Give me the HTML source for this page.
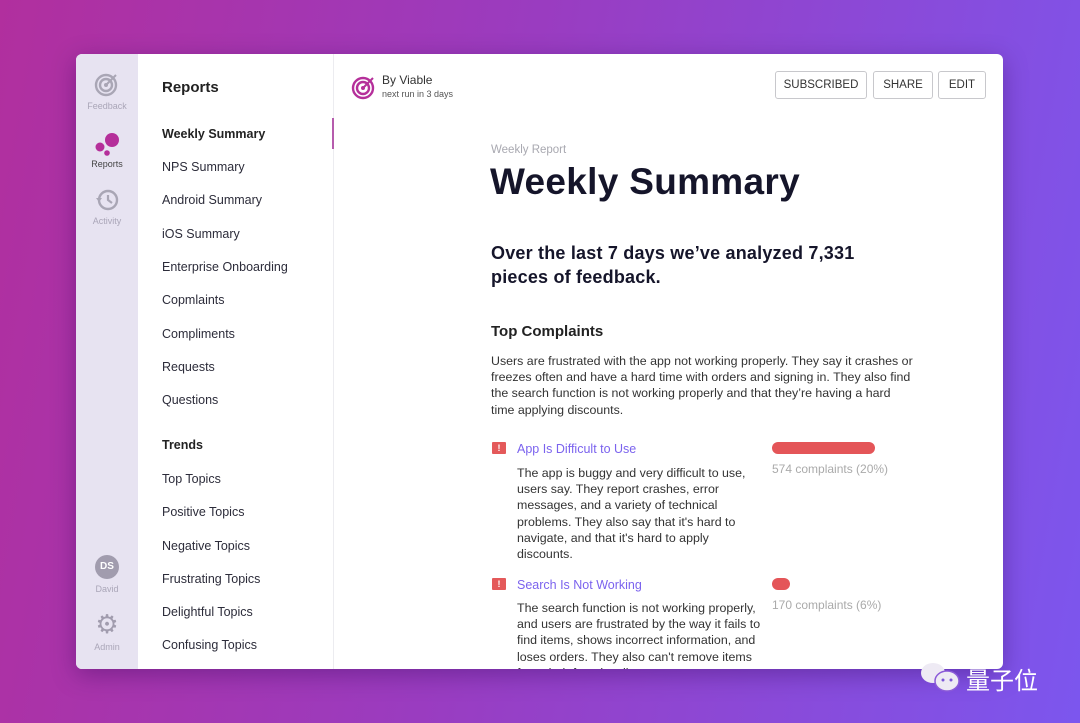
<!DOCTYPE html>
<html><head><meta charset="utf-8"><style>
*{margin:0;padding:0;box-sizing:border-box}
body{width:1080px;height:723px;overflow:hidden;position:relative;font-family:"Liberation Sans",sans-serif;background:linear-gradient(100deg,#b12f9e 0%,#9a3cc0 45%,#7c56ee 100%);}
.win{position:absolute;left:76px;top:54px;width:927px;height:615px;background:#fff;border-radius:6px;overflow:hidden;box-shadow:0 6px 24px rgba(40,0,80,.35)}
.rail{position:absolute;left:0;top:0;width:62px;height:100%;background:#e7e3f1}
.nav{position:absolute;left:62px;top:0;width:196px;height:100%;background:#fff;border-right:1px solid #ececf0}
.a{position:absolute;white-space:nowrap}
.ni{position:absolute;left:24px;font-size:12.5px;color:#2c2c3a}
.rl{position:absolute;width:62px;text-align:center;font-size:9px;color:#aaa6b8}
.btn{position:absolute;top:17px;height:28px;border:1px solid #c8c8cc;border-radius:3px;font-size:11.5px;color:#333;text-align:center;line-height:26px}
.p{font-size:12.4px;color:#333;line-height:16.2px}
</style></head><body>
<div class="win">
 <div class="rail">
  <svg class="a" style="left:18px;top:17px" width="26" height="26" viewBox="0 0 26 26"><circle cx="12" cy="14" r="10" fill="none" stroke="#a9a6b5" stroke-width="2.4"/><circle cx="12" cy="14" r="6" fill="none" stroke="#a9a6b5" stroke-width="2.4"/><circle cx="12" cy="14" r="2" fill="#a9a6b5"/><path d="M12 14 L22 4" stroke="#a9a6b5" stroke-width="2"/></svg>
  <div class="rl" style="top:47px">Feedback</div>
  <svg class="a" style="left:18px;top:78px" width="28" height="26"><circle cx="18" cy="8" r="7" fill="#b52f9a"/><circle cx="6" cy="15" r="4.5" fill="#b52f9a"/><circle cx="13" cy="21" r="2.8" fill="#b52f9a"/></svg>
  <div class="rl" style="top:105px;color:#444">Reports</div>
  <svg class="a" style="left:19px;top:134px" width="26" height="24"><circle cx="13" cy="12" r="9" fill="none" stroke="#a9a6b5" stroke-width="2.4"/><path d="M13 7v5l4 3" stroke="#a9a6b5" stroke-width="2.2" fill="none"/><path d="M1 10l3 4 3-4z" fill="#a9a6b5"/></svg>
  <div class="rl" style="top:162px">Activity</div>
  <div class="a" style="left:19px;top:501px;width:24px;height:24px;border-radius:50%;background:#a19cae;color:#fff;font-size:10px;font-weight:bold;text-align:center;line-height:24px">DS</div>
  <div class="rl" style="top:530px">David</div>
  <div class="a" style="left:19px;top:558px;width:24px;height:24px;font-size:26px;line-height:24px;color:#a19cae;text-align:center">⚙</div>
  <div class="rl" style="top:588px">Admin</div>
 </div>
 <div class="nav">
  <div class="a" style="left:24px;top:25px;font-size:15px;font-weight:bold;color:#222">Reports</div>
  <div class="ni" style="top:73px;font-weight:bold;color:#222">Weekly Summary</div>
  <div class="ni" style="top:106px">NPS Summary</div>
  <div class="ni" style="top:139px">Android Summary</div>
  <div class="ni" style="top:173px">iOS Summary</div>
  <div class="ni" style="top:206px">Enterprise Onboarding</div>
  <div class="ni" style="top:239px">Copmlaints</div>
  <div class="ni" style="top:273px">Compliments</div>
  <div class="ni" style="top:306px">Requests</div>
  <div class="ni" style="top:339px">Questions</div>
  <div class="ni" style="top:384px;font-weight:bold;color:#222">Trends</div>
  <div class="ni" style="top:418px">Top Topics</div>
  <div class="ni" style="top:451px">Positive Topics</div>
  <div class="ni" style="top:485px">Negative Topics</div>
  <div class="ni" style="top:518px">Frustrating Topics</div>
  <div class="ni" style="top:551px">Delightful Topics</div>
  <div class="ni" style="top:584px">Confusing Topics</div>
  <div class="a" style="left:194px;top:64px;width:2px;height:31px;background:#b65cad"></div>
 </div>
 <svg class="a" style="left:275px;top:20px" width="26" height="26"><circle cx="12" cy="14" r="10" fill="none" stroke="#b52f9a" stroke-width="2.4"/><circle cx="12" cy="14" r="6" fill="none" stroke="#b52f9a" stroke-width="2.4"/><circle cx="12" cy="14" r="2" fill="#b52f9a"/><path d="M12 14 L22 4" stroke="#b52f9a" stroke-width="2"/></svg>
 <div class="a" style="left:306px;top:19px;font-size:12px;color:#333">By Viable</div>
 <div class="a" style="left:306px;top:35px;font-size:9px;color:#555">next run in 3 days</div>
 <div class="btn" style="left:699px;width:92px">SUBSCRIBED</div>
 <div class="btn" style="left:797px;width:60px">SHARE</div>
 <div class="btn" style="left:862px;width:48px">EDIT</div>
 <div class="a" style="left:415px;top:90px;font-size:11.5px;color:#a8a8b0">Weekly Report</div>
 <div class="a" style="left:414px;top:107px;font-size:37px;font-weight:bold;color:#15152a;letter-spacing:0.3px">Weekly Summary</div>
 <div class="a" style="left:415px;top:187px;font-size:18px;font-weight:bold;color:#15152a;line-height:24px;letter-spacing:0.2px">Over the last 7 days we’ve analyzed 7,331<br>pieces of feedback.</div>
 <div class="a" style="left:415px;top:269px;font-size:15px;font-weight:bold;color:#222">Top Complaints</div>
 <div class="a p" style="left:415px;top:299px">Users are frustrated with the app not working properly. They say it crashes or<br>freezes often and have a hard time with orders and signing in. They also find<br>the search function is not working properly and that they’re having a hard<br>time applying discounts.</div>
 <div class="a" style="left:416px;top:388px;width:14px;height:12px;background:#e4595a;border-radius:1px;color:#fff;font-size:9px;font-weight:bold;text-align:center;line-height:12px">!</div>
 <div class="a" style="left:441px;top:388px;font-size:12.5px;color:#7b63ee">App Is Difficult to Use</div>
 <div class="a p" style="left:441px;top:411px">The app is buggy and very difficult to use,<br>users say. They report crashes, error<br>messages, and a variety of technical<br>problems. They also say that it's hard to<br>navigate, and that it's hard to apply<br>discounts.</div>
 <div class="a" style="left:696px;top:388px;width:103px;height:12px;border-radius:6px;background:#e45558"></div>
 <div class="a" style="left:696px;top:408px;font-size:12px;color:#aaa">574 complaints (20%)</div>
 <div class="a" style="left:416px;top:524px;width:14px;height:12px;background:#e4595a;border-radius:1px;color:#fff;font-size:9px;font-weight:bold;text-align:center;line-height:12px">!</div>
 <div class="a" style="left:441px;top:524px;font-size:12.5px;color:#7b63ee">Search Is Not Working</div>
 <div class="a p" style="left:441px;top:546px">The search function is not working properly,<br>and users are frustrated by the way it fails to<br>find items, shows incorrect information, and<br>loses orders. They also can't remove items<br>from their favorites list.</div>
 <div class="a" style="left:696px;top:524px;width:18px;height:12px;border-radius:6px;background:#e45558"></div>
 <div class="a" style="left:696px;top:544px;font-size:12px;color:#aaa">170 complaints (6%)</div>
</div>
<svg class="a" style="left:918px;top:660px" width="44" height="36"><ellipse cx="15" cy="13" rx="12" ry="10" fill="#eeeaf4"/><ellipse cx="29" cy="21" rx="12" ry="10" fill="#eeeaf4" stroke="#8b5ad8" stroke-width="1.5"/><circle cx="25" cy="20" r="1.5" fill="#7c56d8"/><circle cx="33" cy="20" r="1.5" fill="#7c56d8"/></svg>
<div class="a" style="left:966px;top:661px;font-size:24px;color:#fff;font-family:'Liberation Sans','Noto Sans CJK SC',sans-serif">量子位</div>
</body></html>
